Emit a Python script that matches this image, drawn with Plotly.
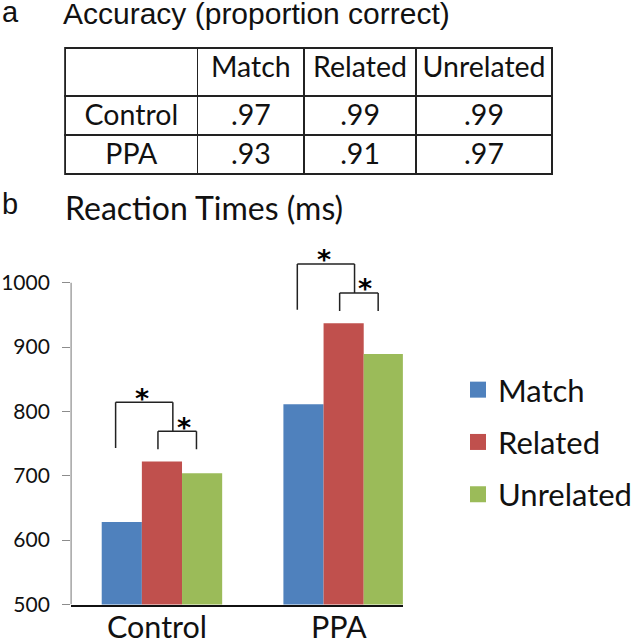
import plotly.graph_objects as go

# ---- data ----
groups = ["Control", "PPA"]
conditions = ["Match", "Related", "Unrelated"]
rt_match = [628, 811]
rt_related = [722, 937]
rt_unrelated = [704, 889]
acc_match = [0.97, 0.93]
acc_related = [0.99, 0.91]
acc_unrelated = [0.99, 0.97]
y_ticks = [500, 600, 700, 800, 900, 1000]

colors = ["#4F81BD", "#C0504D", "#9BBB59"]
W, H = 637, 640
TXT = "#111111"
CAL = "Lato"


def fmt(v):
    return f"{v:.2f}".lstrip("0")


fig = go.Figure()

# ---- table (a) ----
fig.add_trace(go.Table(
    domain=dict(x=[66 / W, 560 / W], y=[1 - 178 / H, 1 - 48 / H]),
    columnwidth=[134, 108, 113, 138],
    header=dict(values=[""] + conditions, height=48, align="center",
                line=dict(color="#222", width=1.6), fill=dict(color="white"),
                font=dict(family=CAL, size=28.5, color=TXT)),
    cells=dict(values=[groups,
                       [fmt(v) for v in acc_match],
                       [fmt(v) for v in acc_related],
                       [fmt(v) for v in acc_unrelated]],
               height=39, align="center",
               line=dict(color="#222", width=1.6), fill=dict(color="white"),
               font=dict(family=CAL, size=28.5, color=TXT)),
))

# ---- bars (b) ----
for name, vals, c in zip(conditions, [rt_match, rt_related, rt_unrelated], colors):
    fig.add_trace(go.Bar(x=groups, y=vals, name=name, marker=dict(color=c, line=dict(width=0)),
                         showlegend=False))
    fig.add_trace(go.Scatter(x=[None], y=[None], mode="markers", name=name,
                             legendgroup=name,
                             marker=dict(symbol="square", size=19, color=c)))

shapes = []
annotations = []
# y axis line (only up to 1000)
shapes.append(dict(type="line", xref="x domain", yref="y", x0=0, x1=0, y0=500, y1=1000,
                   line=dict(color="#8c8c8c", width=1.2)))

# significance brackets
for i, g in enumerate(groups):
    top = max(rt_match[i], rt_related[i], rt_unrelated[i]) + 92
    bl, br = i - 0.255, i + 0.06
    sl, sr = i - 0.022, i + 0.19
    st = top - 45
    for (x0, y0, x1, y1) in [(bl, top - 71, bl, top), (bl, top, br, top), (br, top, br, st),
                             (sl, st, sr, st), (sl, st, sl, top - 73), (sr, st, sr, top - 73)]:
        shapes.append(dict(type="line", xref="x", yref="y", x0=x0, y0=y0, x1=x1, y1=y1,
                           line=dict(color="#222", width=1.5)))
    for (ax, ay) in [(i - 0.11, top + 16), (i + 0.12, st + 16)]:
        annotations.append(dict(x=ax, y=ay, xref="x", yref="y", text="<b>*</b>", showarrow=False,
                                font=dict(family="DejaVu Sans", size=27, color="#000"),
                                yanchor="middle", yshift=-6))

# category labels under the x axis
for g in groups:
    annotations.append(dict(x=g, y=1 - 606 / H, xref="x", yref="paper", text=g,
                            showarrow=False, xanchor="center", yanchor="top", xshift=-5,
                            font=dict(family=CAL, size=30.5, color=TXT)))

# titles
def ptext(txt, x, y_px, size, family):
    annotations.append(dict(text=txt, x=x / W, y=1 - y_px / H, xref="paper", yref="paper",
                            xanchor="left", yanchor="middle", showarrow=False,
                            font=dict(family=family, size=size, color=TXT)))

ptext("a", 0, 12, 29, "Liberation Sans")
ptext("Accuracy (proportion correct)", 62, 14, 30, "Liberation Sans")
ptext("b", 0, 204, 29, "Liberation Sans")
ptext("Reaction Times (ms)", 64, 208, 32, CAL)

fig.update_layout(
    width=W, height=H,
    margin=dict(l=0, r=0, t=0, b=0),
    paper_bgcolor="white", plot_bgcolor="white",
    barmode="group", bargap=0.337, bargroupgap=0,
    shapes=shapes, annotations=annotations,
    showlegend=True,
    legend=dict(x=464 / W, y=1 - 363 / H, xanchor="left", yanchor="top",
                font=dict(family=CAL, size=31, color=TXT),
                tracegroupgap=9, bgcolor="rgba(0,0,0,0)"),
    xaxis=dict(domain=[72 / W, 408 / W], range=[-0.5, 1.326], type="category",
               showline=True, linecolor="#111", linewidth=2, ticks="",
               showticklabels=False,
               showgrid=False, zeroline=False, automargin=False),
    yaxis=dict(domain=[1 - 604.5 / H, 1 - 244 / H], range=[500, 1060],
               tickvals=y_ticks, ticks="outside", ticklen=8, tickcolor="#8c8c8c",
               ticklabelstandoff=8, automargin=False,
               showline=False, showgrid=False, zeroline=False,
               tickfont=dict(family=CAL, size=21, color=TXT)),
)

fig.write_html("out.html", config={"displayModeBar": False},
               post_script="document.body.style.margin='0px';")
